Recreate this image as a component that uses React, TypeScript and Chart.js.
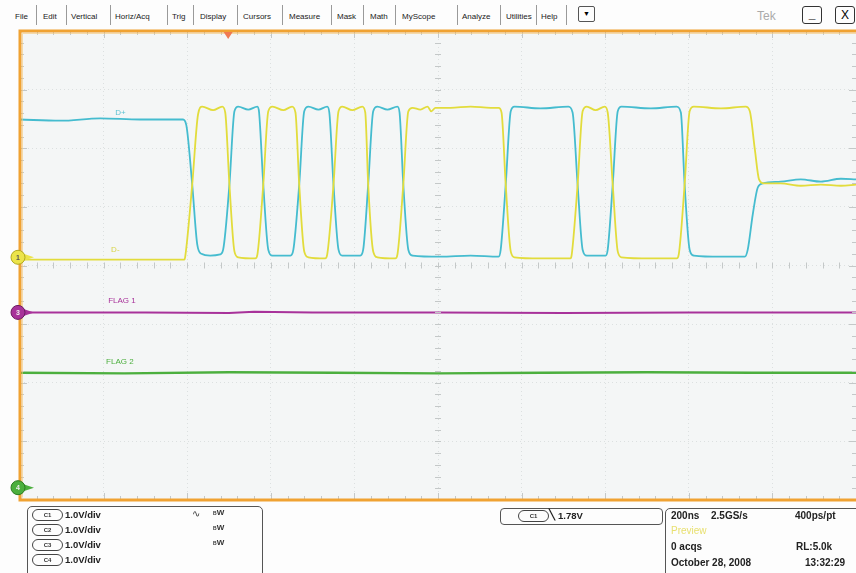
import React, { useEffect, useRef } from "react";
import { Chart, registerables } from "chart.js";
Chart.register(...registerables);

// ---- data (time in ns, level in divisions/volts at 1.0 V/div) ----
const timeRange = [0, 2000];
const voltRange = [-4, 4];
const timeStepNs = 200;

const dPlus: [number, number][] = [
  [0, 2.49], [96, 2.47], [192, 2.51], [287, 2.49], [390, 2.49], [398, 2.39], [412, 1.38], [424, 0.36], [434, 0.2],
  [455, 0.17], [479, 0.19], [486, 0.27], [501, 1.38], [513, 2.63], [522, 2.71], [546, 2.66], [568, 2.71], [572, 2.61],
  [582, 1.38], [594, 0.27], [604, 0.17], [647, 0.17], [654, 0.27], [668, 1.38], [680, 2.63], [690, 2.71], [714, 2.66],
  [735, 2.71], [740, 2.61], [750, 1.38], [762, 0.27], [771, 0.17], [814, 0.17], [821, 0.27], [833, 1.38], [845, 2.63],
  [855, 2.71], [879, 2.66], [903, 2.71], [908, 2.61], [917, 1.38], [929, 0.27], [939, 0.17], [1006, 0.15], [1078, 0.17],
  [1145, 0.15], [1150, 0.27], [1162, 1.38], [1174, 2.63], [1183, 2.71], [1245, 2.68], [1312, 2.71], [1322, 2.61],
  [1334, 1.38], [1346, 0.27], [1356, 0.17], [1401, 0.17], [1406, 0.27], [1418, 1.38], [1430, 2.63], [1439, 2.71],
  [1509, 2.68], [1571, 2.71], [1581, 2.61], [1590, 1.38], [1602, 0.27], [1612, 0.17], [1677, 0.15], [1734, 0.15],
  [1741, 0.27], [1753, 0.87], [1765, 1.33], [1777, 1.4], [1820, 1.43], [1868, 1.47], [1916, 1.43], [1964, 1.48], [2000, 1.47],
];

const dMinus: [number, number][] = [
  [0, 0.1], [393, 0.1], [395, 0.14], [412, 1.38], [426, 2.58], [436, 2.71], [462, 2.65], [484, 2.71], [491, 2.61],
  [501, 1.38], [513, 0.24], [522, 0.14], [563, 0.12], [568, 0.19], [582, 1.38], [594, 2.63], [604, 2.71], [630, 2.65],
  [651, 2.71], [659, 2.61], [668, 1.38], [680, 0.24], [690, 0.14], [730, 0.12], [735, 0.19], [750, 1.38], [762, 2.63],
  [771, 2.71], [795, 2.65], [819, 2.71], [826, 2.61], [833, 1.38], [845, 0.24], [855, 0.14], [898, 0.12], [903, 0.19],
  [917, 1.38], [929, 2.63], [939, 2.69], [958, 2.66], [975, 2.71], [984, 2.63], [994, 2.69], [1030, 2.69], [1078, 2.71],
  [1126, 2.69], [1145, 2.69], [1152, 2.61], [1162, 1.38], [1174, 0.24], [1183, 0.14], [1245, 0.12], [1317, 0.12],
  [1320, 0.19], [1334, 1.38], [1346, 2.63], [1356, 2.71], [1377, 2.65], [1399, 2.71], [1406, 2.61], [1418, 1.38],
  [1430, 0.24], [1439, 0.14], [1509, 0.12], [1571, 0.12], [1576, 0.19], [1590, 1.38], [1602, 2.63], [1612, 2.71],
  [1677, 2.68], [1736, 2.71], [1746, 2.63], [1758, 1.98], [1768, 1.47], [1780, 1.4], [1820, 1.4], [1868, 1.36],
  [1916, 1.38], [1964, 1.36], [2000, 1.38],
];

const flag1: [number, number][] = [
  [0, -0.8], [300, -0.8], [500, -0.81], [560, -0.79], [700, -0.8], [1000, -0.8], [1300, -0.81], [1600, -0.8], [2000, -0.8],
];
const flag2: [number, number][] = [
  [0, -1.83], [250, -1.84], [500, -1.82], [750, -1.83], [1000, -1.84], [1250, -1.83], [1500, -1.82], [1750, -1.83], [2000, -1.83],
];

const traceLabels = [
  { text: "D+", t: 228, v: 2.61, color: "#5cc2d2" },
  { text: "D-", t: 218, v: 0.27, color: "#d8d448" },
  { text: "FLAG 1", t: 211, v: -0.61, color: "#a8329a" },
  { text: "FLAG 2", t: 206, v: -1.64, color: "#4caf3e" },
];
const channelMarkers = [
  { num: "1", v: 0.14, fill: "#ece44a", stroke: "#b0a820", text: "#555" },
  { num: "3", v: -0.8, fill: "#a8329a", stroke: "#6a1a60", text: "#eee" },
  { num: "4", v: -3.79, fill: "#4caf3e", stroke: "#2a7a20", text: "#eee" },
];
const triggerTime = 498;

const menuItems = ["File", "Edit", "Vertical", "Horiz/Acq", "Trig", "Display", "Cursors", "Measure", "Mask", "Math", "MyScope", "Analyze", "Utilities", "Help"];
const channelRows = ["C1", "C2", "C3", "C4"];
const channelScale = ["1.0V/div", "1.0V/div", "1.0V/div", "1.0V/div"];

// ---- layout constants ----
const menuX = [15, 43, 71, 115, 172, 200, 243, 289, 337, 370, 402, 462, 506, 541];
const sepX = [36, 66, 110, 167, 193, 237, 282, 331, 363, 395, 457, 500, 536, 566];

const PLOT_BG = "#f4f6f6";
const ORANGE = "#f0a232";

const scopePlugin = {
  id: "scope",
  beforeDraw(chart: any) {
    const { ctx, chartArea: a } = chart;
    ctx.save();
    ctx.fillStyle = PLOT_BG;
    ctx.fillRect(a.left, a.top, a.right - a.left, a.bottom - a.top);
    ctx.restore();
  },
  afterDraw(chart: any) {
    const { ctx, chartArea: a } = chart;
    const xs = chart.scales.x;
    const ys = chart.scales.y;
    ctx.save();
    ctx.strokeStyle = "#c4c8c8";
    ctx.lineWidth = 1;
    const cx = xs.getPixelForValue(1000);
    const cy = ys.getPixelForValue(0);
    for (let t = timeRange[0]; t <= timeRange[1]; t += timeStepNs / 5) {
      const px = Math.round(xs.getPixelForValue(t)) + 0.5;
      const major = t % timeStepNs === 0;
      const len = major ? 7 : 4;
      ctx.beginPath();
      ctx.moveTo(px, a.top); ctx.lineTo(px, a.top + len);
      ctx.moveTo(px, a.bottom); ctx.lineTo(px, a.bottom - len);
      ctx.moveTo(px, cy - 3); ctx.lineTo(px, cy + 3);
      ctx.stroke();
    }
    for (let i = 0; i <= 40; i++) {
      const v = voltRange[0] + i * 0.2;
      const py = Math.round(ys.getPixelForValue(v)) + 0.5;
      const major = i % 5 === 0;
      const len = major ? 7 : 4;
      ctx.beginPath();
      ctx.moveTo(a.left, py); ctx.lineTo(a.left + len, py);
      ctx.moveTo(a.right, py); ctx.lineTo(a.right - len, py);
      ctx.moveTo(cx - 3, py); ctx.lineTo(cx + 3, py);
      ctx.stroke();
    }
    ctx.strokeStyle = ORANGE;
    ctx.lineWidth = 3;
    ctx.beginPath();
    ctx.moveTo(a.right + 2, a.top);
    ctx.lineTo(a.left, a.top);
    ctx.lineTo(a.left, a.bottom);
    ctx.lineTo(a.right + 2, a.bottom);
    ctx.stroke();
    ctx.strokeStyle = "rgba(245,200,120,0.6)";
    ctx.lineWidth = 1;
    ctx.beginPath();
    ctx.moveTo(a.right, a.top + 2.5);
    ctx.lineTo(a.left + 2.5, a.top + 2.5);
    ctx.lineTo(a.left + 2.5, a.bottom - 2.5);
    ctx.stroke();
    const tx = xs.getPixelForValue(triggerTime);
    ctx.fillStyle = "#f07a52";
    ctx.beginPath();
    ctx.moveTo(tx - 4.5, a.top + 1);
    ctx.lineTo(tx + 4.5, a.top + 1);
    ctx.lineTo(tx, a.top + 8);
    ctx.closePath();
    ctx.fill();
    ctx.font = "8px 'Liberation Sans', Arial, sans-serif";
    ctx.textBaseline = "middle";
    ctx.textAlign = "left";
    traceLabels.forEach((l) => {
      ctx.fillStyle = l.color;
      ctx.fillText(l.text, xs.getPixelForValue(l.t), ys.getPixelForValue(l.v));
    });
    channelMarkers.forEach((m) => {
      const py = ys.getPixelForValue(m.v);
      const mx = a.left - 2;
      ctx.fillStyle = m.fill;
      ctx.beginPath();
      ctx.moveTo(mx + 4, py - 4);
      ctx.lineTo(mx + 16, py);
      ctx.lineTo(mx + 4, py + 4);
      ctx.closePath();
      ctx.fill();
      ctx.beginPath();
      ctx.arc(mx, py, 7, 0, Math.PI * 2);
      ctx.fill();
      ctx.strokeStyle = m.stroke;
      ctx.lineWidth = 1;
      ctx.stroke();
      ctx.fillStyle = m.text;
      ctx.font = "bold 7px 'Liberation Sans', Arial, sans-serif";
      ctx.textAlign = "center";
      ctx.fillText(m.num, mx, py + 0.5);
    });
    ctx.restore();
  },
};

const Pill = ({ label, left, top }: { label: string; left: number; top: number }) => (
  <div
    style={{
      position: "absolute", left, top, width: 29, height: 10, border: "1px solid #444", borderRadius: 6,
      fontSize: 6, lineHeight: "10px", textAlign: "center", color: "#333", fontWeight: "bold",
    }}
  >
    {label}
  </div>
);

export default function App() {
  const ref = useRef<HTMLCanvasElement>(null);
  useEffect(() => {
    if (!ref.current) return;
    const mk = (d: [number, number][]) => d.map(([x, y]) => ({ x, y }));
    const chart = new Chart(ref.current, {
      type: "line",
      data: {
        datasets: [
          { label: "D-", data: mk(dMinus), borderColor: "#e2dc3c", borderWidth: 1.8, pointRadius: 0, cubicInterpolationMode: "monotone" },
          { label: "D+", data: mk(dPlus), borderColor: "#45bccf", borderWidth: 1.8, pointRadius: 0, cubicInterpolationMode: "monotone" },
          { label: "FLAG 1", data: mk(flag1), borderColor: "#a8329a", borderWidth: 2, pointRadius: 0 },
          { label: "FLAG 2", data: mk(flag2), borderColor: "#4caf3e", borderWidth: 2.4, pointRadius: 0 },
        ] as any,
      },
      options: {
        animation: false,
        responsive: false,
        devicePixelRatio: 1,
        layout: { padding: { left: 20, top: 7, right: 0, bottom: 10 } },
        plugins: { legend: { display: false }, tooltip: { enabled: false } },
        scales: {
          x: {
            type: "linear", min: timeRange[0], max: timeRange[1],
            ticks: { display: false, stepSize: timeStepNs },
            grid: { color: "#dce0e0", lineWidth: 1, drawTicks: false } as any,
            border: { display: false, dash: [1, 3] },
          },
          y: {
            type: "linear", min: voltRange[0], max: voltRange[1],
            ticks: { display: false, stepSize: 1 },
            grid: { color: "#dce0e0", lineWidth: 1, drawTicks: false } as any,
            border: { display: false, dash: [1, 3] },
          },
        },
      },
      plugins: [scopePlugin],
    });
    return () => chart.destroy();
  }, []);

  const font = "'Liberation Sans', Arial, sans-serif";
  const boldTxt: React.CSSProperties = { position: "absolute", fontSize: 10, fontWeight: "bold", color: "#222", lineHeight: "11px" };

  return (
    <div style={{ position: "fixed", left: 0, top: 0, width: 856, height: 573, background: "#fdfdfd", overflow: "hidden", fontFamily: font }}>
      {menuItems.map((m, i) => (
        <div key={m} style={{ position: "absolute", left: menuX[i], top: 12, fontSize: 8, color: "#222", lineHeight: "10px" }}>{m}</div>
      ))}
      {sepX.map((x) => (
        <div key={x} style={{ position: "absolute", left: x, top: 5, width: 1, height: 20, background: "#9a9a9a" }} />
      ))}
      <div style={{ position: "absolute", left: 578, top: 6, width: 15, height: 14, border: "1px solid #555", borderRadius: 2, fontSize: 7, textAlign: "center", lineHeight: "14px" }}>▼</div>
      <div style={{ position: "absolute", left: 757, top: 9, fontSize: 12, color: "#aaa", lineHeight: "14px" }}>Tek</div>
      <div style={{ position: "absolute", left: 802, top: 6, width: 18, height: 16, border: "1.5px solid #333", borderRadius: 3, fontSize: 12, textAlign: "center", lineHeight: "14px", fontWeight: "bold" }}>_</div>
      <div style={{ position: "absolute", left: 835, top: 6, width: 18, height: 16, border: "1.5px solid #333", borderRadius: 3, fontSize: 12, textAlign: "center", lineHeight: "16px" }}>X</div>

      <canvas ref={ref} width={856} height={486} style={{ position: "absolute", left: 0, top: 24, width: 856, height: 486 }} />

      <div style={{ position: "absolute", left: 27, top: 506, width: 234, height: 80, border: "1px solid #555", borderRadius: 5 }} />
      {channelRows.map((c, i) => (
        <React.Fragment key={c}>
          <Pill label={c} left={32} top={509 + i * 15} />
          <div style={{ ...boldTxt, fontSize: 9.5, left: 65, top: 509 + i * 15 }}>{channelScale[i]}</div>
          {i < 3 && (
            <div style={{ position: "absolute", left: 213, top: 508 + i * 15, fontSize: 8, fontWeight: "bold", color: "#333", lineHeight: "10px" }}>
              <span style={{ fontSize: 5, verticalAlign: "top" }}>B</span>W
            </div>
          )}
        </React.Fragment>
      ))}
      <div style={{ position: "absolute", left: 192, top: 508, fontSize: 10, color: "#333", lineHeight: "12px" }}>∿</div>

      <div style={{ position: "absolute", left: 500, top: 508, width: 161, height: 15, border: "1px solid #555", borderRadius: 4 }} />
      <Pill label="C1" left={518} top={510} />
      <div style={{ position: "absolute", left: 549, top: 509, fontSize: 10, color: "#222", lineHeight: "12px", fontWeight: "bold" }}>╲</div>
      <div style={{ ...boldTxt, fontSize: 9.5, left: 558, top: 510 }}>1.78V</div>

      <div style={{ position: "absolute", left: 665, top: 508, width: 200, height: 80, border: "1px solid #555", borderRadius: 5 }} />
      <div style={{ ...boldTxt, left: 671, top: 510 }}>200ns</div>
      <div style={{ ...boldTxt, left: 711, top: 510 }}>2.5GS/s</div>
      <div style={{ ...boldTxt, left: 795, top: 510 }}>400ps/pt</div>
      <div style={{ ...boldTxt, left: 671, top: 525, color: "#e8e070", fontWeight: "normal" }}>Preview</div>
      <div style={{ ...boldTxt, left: 671, top: 541 }}>0 acqs</div>
      <div style={{ ...boldTxt, left: 796, top: 541 }}>RL:5.0k</div>
      <div style={{ ...boldTxt, left: 671, top: 557 }}>October 28, 2008</div>
      <div style={{ ...boldTxt, left: 805, top: 557 }}>13:32:29</div>
    </div>
  );
}
